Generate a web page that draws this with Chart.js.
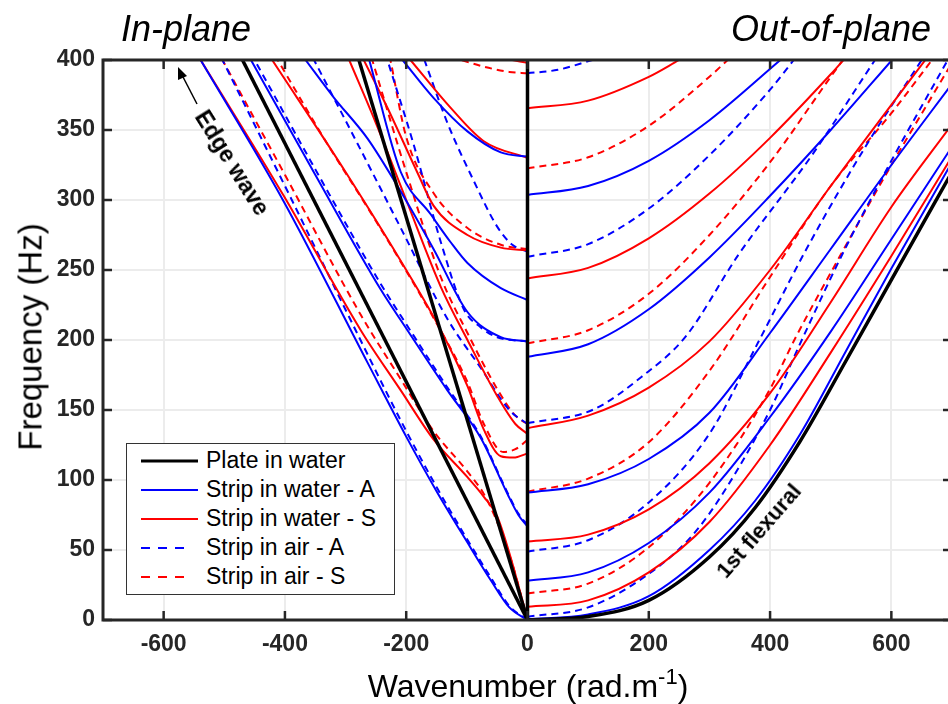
<!DOCTYPE html>
<html>
<head>
<meta charset="utf-8">
<script src="https://cdn.jsdelivr.net/npm/chart.js@4.4.1/dist/chart.umd.min.js"></script>
<style>
  html, body { margin: 0; padding: 0; background: #fff; overflow: hidden; }
  #wrap { position: relative; width: 960px; height: 704px; font-family: "Liberation Sans", Arial, sans-serif; color: #000; }
  #chart { position: absolute; left: 0; top: 0; }
  .ptitle { position: absolute; top: 11px; font-size: 36px; line-height: 1; font-style: italic; white-space: nowrap; }
  .note { position: absolute; font-weight: bold; font-size: 23px; line-height: 1; white-space: nowrap; }
  #ytitle { position: absolute; left: 30px; top: 337px; font-size: 33px; line-height: 1; white-space: nowrap; transform: translate(-50%, -50%) rotate(-90deg); }
  #xtitle { position: absolute; left: 528px; top: 686px; font-size: 32px; line-height: 1; white-space: nowrap; transform: translate(-50%, -50%); }
  #xtitle sup { font-size: 22px; vertical-align: 13px; line-height: 0; }
  #legend { position: absolute; left: 126px; top: 443px; width: 269px; height: 152px; box-sizing: border-box; border: 1.5px solid #333; background: #fff; }
  .row { position: absolute; left: 0; height: 29px; width: 100%; }
  .row svg { position: absolute; left: 13px; top: 13px; }
  .row span { position: absolute; left: 79px; top: 3px; font-size: 23px; line-height: 1; white-space: nowrap; }
</style>
</head>
<body>
<div id="wrap">
  <canvas id="chart" width="960" height="704"></canvas>
  <div class="ptitle" style="left:121px">In-plane</div>
  <div class="ptitle" style="left:731px">Out-of-plane</div>
  <div id="ytitle">Frequency (Hz)</div>
  <div id="xtitle">Wavenumber (rad.m<sup>-1</sup>)</div>
  <div class="note" style="left:232px; top:163px; transform: translate(-50%, -50%) rotate(58deg);">Edge wave</div>
  <div class="note" style="left:759px; top:531px; font-size:22px; transform: translate(-50%, -50%) rotate(-49deg);">1st flexural</div>
  <div id="legend"></div>
</div>
<script>
// in-plane branches use negative wavenumbers, out-of-plane positive
// each curve is a list of [wavenumber, frequency] pairs
const xTicks = [-600, -400, -200, 0, 200, 400, 600];
const yTicks = [0, 50, 100, 150, 200, 250, 300, 350, 400];

const plateWater = [
  [[0, 0], [-470, 400]],
  [[0, 0], [-278, 400]],
  [[0, 0], [100, 2.5], [200, 14], [300, 45], [375, 80], [450, 128], [525, 185], [600, 243], [700, 320]]
];

const stripWaterA = [
  [[0, 0], [-30, 9], [-60, 28], [-100, 56], [-150, 92], [-200, 131], [-264, 184], [-402, 299], [-539, 400]],
  [[0, 66.7], [-15, 75], [-33, 90], [-77, 130], [-132, 164], [-198, 207], [-242, 236], [-350, 318], [-456, 400]],
  [[0, 199], [-44, 202], [-99, 220], [-155, 265], [-209, 306], [-264, 344], [-319, 373], [-366, 400]],
  [[0, 228.6], [-44, 237], [-99, 255], [-127, 270], [-160, 290], [-209, 320], [-261, 400]],
  [[0, 331], [-44, 334], [-99, 349], [-155, 373], [-206, 400]],
  [[0, 0.5], [100, 4], [200, 17], [300, 50], [375, 85], [450, 133], [525, 192], [600, 251], [700, 327]],
  [[0, 28], [100, 34], [200, 55], [300, 91], [400, 145], [500, 206], [600, 272], [700, 338]],
  [[0, 91], [100, 97], [200, 115], [300, 148], [400, 205], [500, 265], [600, 325], [700, 383]],
  [[0, 188], [100, 197], [200, 222], [300, 259], [400, 303], [500, 350], [601, 400]],
  [[0, 303.6], [100, 310], [200, 328], [300, 357], [417, 400]]
];

const stripWaterS = [
  [[0, 0], [-28, 45], [-50, 74], [-72, 88], [-99, 102], [-155, 129], [-209, 164], [-275, 207], [-402, 303], [-539, 400]],
  [[0, 119], [-23, 116], [-44, 117], [-72, 136], [-99, 167], [-143, 207], [-200, 250], [-300, 320], [-421, 400]],
  [[0, 133], [-20, 140], [-50, 160], [-99, 200], [-143, 238], [-200, 300], [-250, 355], [-294, 400]],
  [[0, 264], [-44, 266], [-99, 275], [-155, 296], [-182, 320], [-230, 365], [-270, 400]],
  [[0, 330], [-72, 342], [-127, 366], [-193, 400]],
  [[0, 398], [-25, 400]],
  [[0, 9.5], [100, 14], [200, 34], [300, 70], [400, 125], [500, 191], [600, 260], [700, 331]],
  [[0, 56], [100, 61], [200, 79], [300, 112], [400, 162], [500, 227], [600, 295], [700, 354]],
  [[0, 137], [100, 146], [200, 166], [300, 199], [400, 250], [500, 310], [600, 368], [656, 400]],
  [[0, 244], [100, 251.5], [200, 272.6], [300, 304.6], [400, 344.4], [500, 389.8], [521, 400]],
  [[0, 365.5], [100, 371], [200, 388], [250, 400]]
];

const stripAirA = [
  [[0, 0], [-30, 10], [-60, 30], [-100, 58], [-150, 95], [-200, 135], [-264, 190], [-400, 310], [-503, 400]],
  [[0, 68], [-15, 76], [-33, 91], [-77, 131], [-132, 166], [-198, 210], [-242, 240], [-350, 322], [-450, 400]],
  [[0, 140], [-30, 150], [-77, 180], [-132, 215], [-209, 280], [-280, 340], [-352, 400]],
  [[0, 199], [-50, 202], [-77, 209], [-105, 222], [-143, 270], [-188, 340], [-231, 400]],
  [[0, 263], [-25, 268], [-50, 281], [-89, 314], [-132, 355], [-170, 400]],
  [[0, 2.4], [100, 9], [200, 33], [271, 60], [326, 93], [400, 150], [447, 195], [520, 262], [600, 328], [693, 400]],
  [[0, 48.8], [100, 57], [200, 84], [300, 133], [380, 198], [460, 265], [560, 340], [650, 400]],
  [[0, 140.5], [107, 150], [189, 174], [260, 202], [348, 261], [469, 332], [573, 400]],
  [[0, 259.5], [100, 268.5], [200, 293.9], [300, 332], [400, 378.8], [439, 400]],
  [[0, 390.5], [50, 393], [107, 400]]
];

const stripAirS = [
  [[0, 0], [-25, 40], [-50, 70], [-72, 90], [-99, 106], [-155, 135], [-209, 172], [-275, 218], [-400, 318], [-503, 400]],
  [[0, 128.6], [-20, 122], [-40, 120], [-72, 140], [-99, 170], [-150, 212], [-250, 285], [-330, 340], [-412, 400]],
  [[0, 140], [-20, 146], [-50, 165], [-99, 205], [-143, 245], [-200, 320], [-256, 400]],
  [[0, 265], [-44, 268], [-99, 280], [-155, 305], [-200, 345], [-226, 400]],
  [[0, 390.5], [-30, 391.5], [-70, 395], [-110, 400]],
  [[0, 19], [100, 26], [200, 52], [300, 98], [400, 165], [440, 200], [500, 248], [600, 325], [700, 398]],
  [[0, 91.7], [100, 101], [200, 127], [300, 178], [400, 245], [500, 310], [600, 362], [667, 400]],
  [[0, 197.6], [100, 207], [200, 233], [300, 275], [400, 327], [500, 388], [520, 400]],
  [[0, 322.6], [100, 330.5], [200, 353], [300, 388], [330, 400]]
];

const BLUE = "#0000ff", RED = "#ff0000", BLACK = "#000000";
const DASH = [7, 5];
const FONT = "'Liberation Sans', Arial, sans-serif";

let datasets = [];
function addCurves(curves, color, dash, width) {
  curves.forEach(function (c) {
    datasets.push({
      data: c.map(p => ({ x: p[0], y: p[1] })),
      borderColor: color,
      borderDash: dash,
      borderWidth: width,
      pointRadius: 0,
      fill: false,
      cubicInterpolationMode: "monotone"
    });
  });
}
// first dataset ends up on top
addCurves(plateWater, BLACK, [], 3.5);
addCurves(stripWaterA, BLUE, [], 2);
addCurves(stripWaterS, RED, [], 2);
addCurves(stripAirA, BLUE, DASH, 2);
addCurves(stripAirS, RED, DASH, 2);

const frame = {
  id: "frame",
  afterDraw(chart) {
    const c = chart.ctx, a = chart.chartArea, x = chart.scales.x, y = chart.scales.y;
    function seg(x1, y1, x2, y2) { c.beginPath(); c.moveTo(x1, y1); c.lineTo(x2, y2); c.stroke(); }
    c.save();
    // divider between the two panels
    const x0 = x.getPixelForValue(0);
    c.strokeStyle = BLACK; c.lineWidth = 3.5;
    seg(x0, a.top, x0, a.bottom);
    // box and inward ticks
    c.strokeStyle = "#262626"; c.lineWidth = 3;
    c.strokeRect(a.left, a.top, a.right - a.left, a.bottom - a.top);
    c.lineWidth = 2.5;
    xTicks.forEach(function (v) {
      const p = x.getPixelForValue(v);
      seg(p, a.bottom, p, a.bottom - 9);
      seg(p, a.top, p, a.top + 9);
    });
    yTicks.forEach(function (v) {
      const p = y.getPixelForValue(v);
      seg(a.left, p, a.left + 9, p);
      seg(a.right, p, a.right - 9, p);
    });
    // edge wave arrow
    c.strokeStyle = BLACK; c.fillStyle = BLACK; c.lineWidth = 1.5;
    seg(197, 104, 182, 75);
    c.beginPath(); c.moveTo(178, 67); c.lineTo(187, 76); c.lineTo(178, 80); c.closePath(); c.fill();
    c.restore();
  }
};

const ctx = document.getElementById("chart").getContext("2d");
const chart = new Chart(ctx, {
  type: "line",
  data: { datasets: datasets },
  options: {
    responsive: false,
    animation: false,
    layout: { padding: { top: 60, right: 8, left: 0, bottom: 0 } },
    plugins: { legend: { display: false }, tooltip: { enabled: false } },
    scales: {
      x: {
        type: "linear", min: -700, max: 700,
        afterBuildTicks: s => { s.ticks = xTicks.map(v => ({ value: v })); },
        afterFit: s => { s.height = 84; },
        grid: { color: "#ececec", lineWidth: 2, drawTicks: false },
        border: { display: false },
        ticks: { padding: 11, color: "#262626", maxRotation: 0, font: { family: FONT, size: 23, weight: "bold" } }
      },
      y: {
        type: "linear", min: 0, max: 400,
        afterBuildTicks: s => { s.ticks = yTicks.map(v => ({ value: v })); },
        afterFit: s => { s.width = 103; },
        grid: { color: "#ececec", lineWidth: 2, drawTicks: false },
        border: { display: false },
        ticks: { padding: 8, color: "#262626", font: { family: FONT, size: 23, weight: "bold" } }
      }
    }
  },
  plugins: [frame]
});

// legend
const legendRows = [
  ["Plate in water", BLACK, false, 3],
  ["Strip in water - A", BLUE, false, 2],
  ["Strip in water - S", RED, false, 2],
  ["Strip in air - A", BLUE, true, 2],
  ["Strip in air - S", RED, true, 2]
];
const lg = document.getElementById("legend");
legendRows.forEach(function (r, i) {
  const row = document.createElement("div");
  row.className = "row";
  row.style.top = (2 + 29 * i) + "px";
  const dash = r[2] ? ' stroke-dasharray="9,8"' : "";
  const w = r[2] ? 52 : 58;
  row.innerHTML = '<svg width="60" height="4"><line x1="1" y1="2" x2="' + w + '" y2="2" stroke="' + r[1] + '" stroke-width="' + r[3] + '"' + dash + '/></svg><span>' + r[0] + '</span>';
  lg.appendChild(row);
});
</script>
</body>
</html>
